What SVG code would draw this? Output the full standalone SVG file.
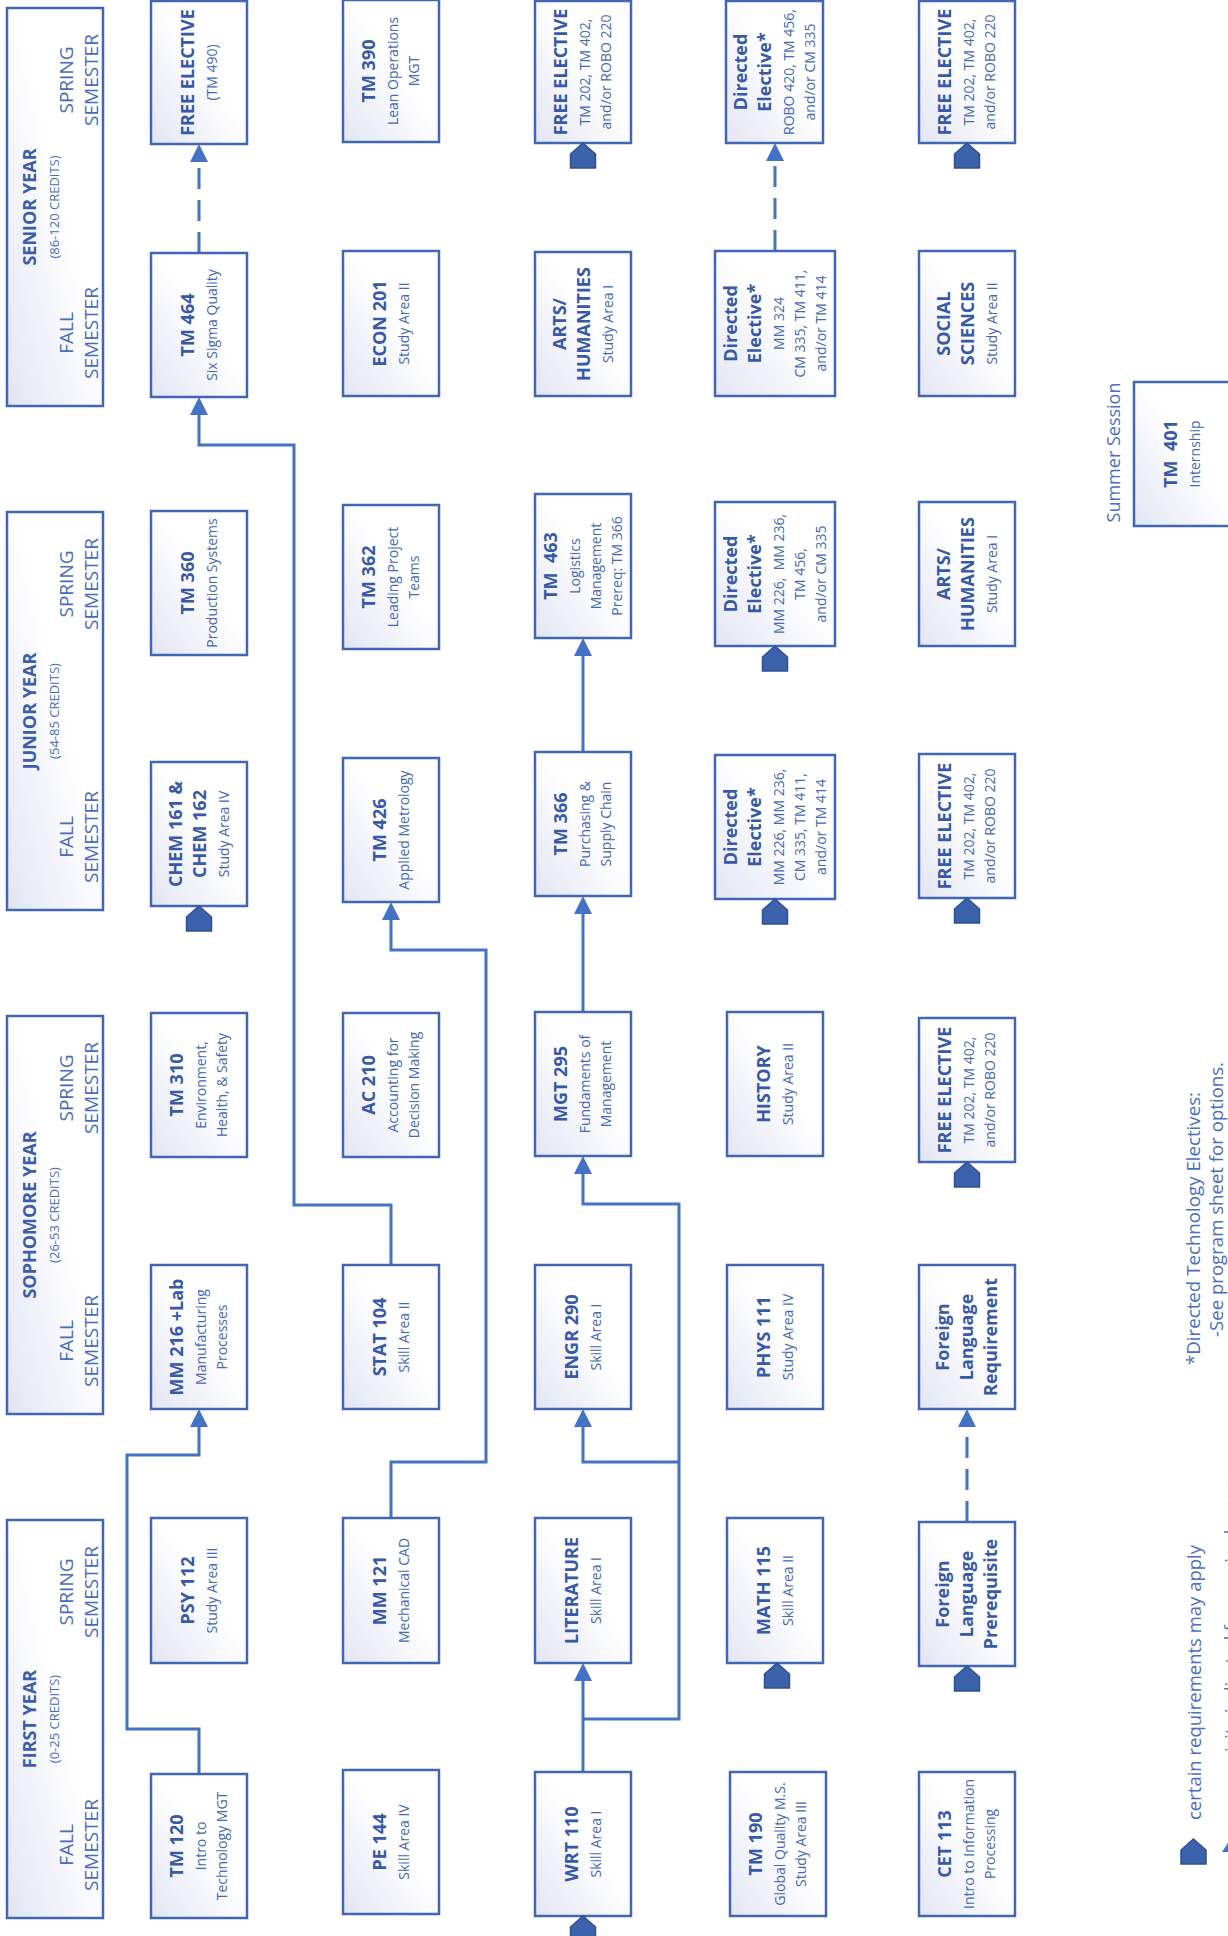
<svg xmlns="http://www.w3.org/2000/svg" xmlns:xlink="http://www.w3.org/1999/xlink" width="1228" height="1936" viewBox="0 0 1228 1936">
<style>
.box{fill:url(#g);stroke:#4266B2;stroke-width:2.5}
.t{font-family:"Open Sans","Noto Sans",sans-serif;font-weight:700;font-size:18px;fill:#3759A6;text-anchor:middle}
.s{font-family:"Open Sans","Noto Sans",sans-serif;font-size:14px;fill:#4568B6;text-anchor:middle}
.ht{font-family:"Open Sans","Noto Sans",sans-serif;font-weight:700;font-size:18px;fill:#3B5EAB;text-anchor:middle}
.hc{font-family:"Open Sans","Noto Sans",sans-serif;font-size:13px;fill:#4A6CBB;text-anchor:middle}
.hs{font-family:"Open Sans","Noto Sans",sans-serif;font-size:19px;fill:#4A6CBB;text-anchor:middle}
.n{font-family:"Open Sans","Noto Sans",sans-serif;font-size:18px;fill:#4A6FC0}
.c{fill:none;stroke:#4472C4;stroke-width:3;marker-end:url(#ah)}
.d{stroke-dasharray:21 11}
.pent{fill:#3B62AA;stroke:#2F5092;stroke-width:1.5}
</style>
<defs>
<linearGradient id="g" x1="0" y1="1" x2="1" y2="0">
<stop offset="0" stop-color="#E2E5F3"/>
<stop offset="0.55" stop-color="#FFFFFF"/>
<stop offset="1" stop-color="#FFFFFF"/>
</linearGradient>
<marker id="ah" viewBox="0 0 18 18" refX="3" refY="9" markerWidth="18" markerHeight="18" markerUnits="userSpaceOnUse" orient="auto">
<path d="M0,0 L18,9 L0,18 Z" fill="#4472C4"/>
</marker>
<path id="pent" class="pent" d="M0,0 L12.5,11 L12.5,25 L-12.5,25 L-12.5,11 Z"/>
</defs>
<rect x="0" y="0" width="1228" height="1936" fill="#FFFFFF"/>

<g id="connectors">
<path class="c" d="M199,1774 V1729 H127 V1455 H199 V1424"/>
<path class="c" d="M391,1518 V1462 H486 V950 H391 V917"/>
<path class="c" d="M391,1265 V1205 H294 V445 H199 V412"/>
<path class="c" d="M583,1772 V1678"/>
<path class="c" d="M583,1719 H679 V1204 H583 V1171"/>
<path class="c" d="M679,1462 H583 V1424"/>
<path class="c" d="M583,1012 V911"/>
<path class="c" d="M583,752 V653"/>
<path class="c d" d="M199,253 V159"/>
<path class="c d" d="M775,251 V158"/>
<path class="c d" d="M967,1522 V1424"/>
</g>

<g id="senior-year"><rect class="box" x="7" y="8" width="96" height="398"/>
<text class="ht" transform="translate(36,207) rotate(-90)">SENIOR YEAR</text>
<text class="hc" transform="translate(59,207) rotate(-90)">(86-120 CREDITS)</text>
<text class="hs" transform="translate(73,80) rotate(-90)">SPRING</text>
<text class="hs" transform="translate(98,80) rotate(-90)">SEMESTER</text>
<text class="hs" transform="translate(73,333) rotate(-90)">FALL</text>
<text class="hs" transform="translate(98,333) rotate(-90)">SEMESTER</text></g>
<g id="junior-year"><rect class="box" x="7" y="512" width="96" height="398"/>
<text class="ht" transform="translate(36,711) rotate(-90)">JUNIOR YEAR</text>
<text class="hc" transform="translate(59,711) rotate(-90)">(54-85 CREDITS)</text>
<text class="hs" transform="translate(73,584) rotate(-90)">SPRING</text>
<text class="hs" transform="translate(98,584) rotate(-90)">SEMESTER</text>
<text class="hs" transform="translate(73,837) rotate(-90)">FALL</text>
<text class="hs" transform="translate(98,837) rotate(-90)">SEMESTER</text></g>
<g id="sophomore-year"><rect class="box" x="7" y="1016" width="96" height="398"/>
<text class="ht" transform="translate(36,1215) rotate(-90)">SOPHOMORE YEAR</text>
<text class="hc" transform="translate(59,1215) rotate(-90)">(26-53 CREDITS)</text>
<text class="hs" transform="translate(73,1088) rotate(-90)">SPRING</text>
<text class="hs" transform="translate(98,1088) rotate(-90)">SEMESTER</text>
<text class="hs" transform="translate(73,1341) rotate(-90)">FALL</text>
<text class="hs" transform="translate(98,1341) rotate(-90)">SEMESTER</text></g>
<g id="first-year"><rect class="box" x="7" y="1520" width="96" height="398"/>
<text class="ht" transform="translate(36,1719) rotate(-90)">FIRST YEAR</text>
<text class="hc" transform="translate(59,1719) rotate(-90)">(0-25 CREDITS)</text>
<text class="hs" transform="translate(73,1592) rotate(-90)">SPRING</text>
<text class="hs" transform="translate(98,1592) rotate(-90)">SEMESTER</text>
<text class="hs" transform="translate(73,1845) rotate(-90)">FALL</text>
<text class="hs" transform="translate(98,1845) rotate(-90)">SEMESTER</text></g>

<g id="free-elective-tm490"><rect class="box" x="151" y="1" width="96" height="143"/>
<g transform="translate(199,72.5) rotate(-90)"><text class="t" y="-5.5">FREE ELECTIVE</text><text class="s" y="17.5">(TM 490)</text></g></g>
<g id="tm390"><rect class="box" x="343" y="0" width="96" height="142"/>
<g transform="translate(391,71) rotate(-90)"><text class="t" y="-16">TM 390</text><text class="s" y="7">Lean Operations</text><text class="s" y="28">MGT</text></g></g>
<g id="free-elective-senior-3"><rect class="box" x="535" y="1" width="96" height="142"/>
<g transform="translate(583,72) rotate(-90)"><text class="t" y="-16">FREE ELECTIVE</text><text class="s" y="7">TM 202, TM 402,</text><text class="s" y="28">and/or ROBO 220</text></g>
<use xlink:href="#pent" x="583" y="143"/></g>
<g id="directed-senior-spring"><rect class="box" x="726" y="1" width="97" height="142"/>
<g transform="translate(774.5,72) rotate(-90)"><text class="t" y="-28">Directed</text><text class="t" y="-4">Elective*</text><text class="s" y="19">ROBO 420, TM 456,</text><text class="s" y="40">and/or CM 335</text></g></g>
<g id="free-elective-senior-5"><rect class="box" x="919" y="1" width="96" height="142"/>
<g transform="translate(967,72) rotate(-90)"><text class="t" y="-16">FREE ELECTIVE</text><text class="s" y="7">TM 202, TM 402,</text><text class="s" y="28">and/or ROBO 220</text></g>
<use xlink:href="#pent" x="967" y="143"/></g>

<g id="tm464"><rect class="box" x="151" y="253" width="96" height="144"/>
<g transform="translate(199,325) rotate(-90)"><text class="t" y="-5.5">TM 464</text><text class="s" y="17.5">Six Sigma Quality</text></g></g>
<g id="econ201"><rect class="box" x="343" y="251" width="96" height="145"/>
<g transform="translate(391,323.5) rotate(-90)"><text class="t" y="-5.5">ECON 201</text><text class="s" y="17.5">Study Area II</text></g></g>
<g id="arts-senior"><rect class="box" x="535" y="252" width="96" height="144"/>
<g transform="translate(583,324) rotate(-90)"><text class="t" y="-17.5">ARTS/</text><text class="t" y="6.5">HUMANITIES</text><text class="s" y="29.5">Study Area I</text></g></g>
<g id="directed-senior-fall"><rect class="box" x="715" y="251" width="120" height="145"/>
<g transform="translate(775,323.5) rotate(-90)"><text class="t" y="-38.5">Directed</text><text class="t" y="-14.5">Elective*</text><text class="s" y="8.5">MM 324</text><text class="s" y="29.5">CM 335, TM 411,</text><text class="s" y="50.5">and/or TM 414</text></g></g>
<g id="social-sciences"><rect class="box" x="919" y="251" width="96" height="145"/>
<g transform="translate(967,323.5) rotate(-90)"><text class="t" y="-17.5">SOCIAL</text><text class="t" y="6.5">SCIENCES</text><text class="s" y="29.5">Study Area II</text></g></g>

<g id="tm360"><rect class="box" x="151" y="511" width="96" height="144"/>
<g transform="translate(199,583) rotate(-90)"><text class="t" y="-5.5">TM 360</text><text class="s" y="17.5">Production Systems</text></g></g>
<g id="tm362"><rect class="box" x="343" y="505" width="96" height="144"/>
<g transform="translate(391,577) rotate(-90)"><text class="t" y="-16">TM 362</text><text class="s" y="7">Leading Project</text><text class="s" y="28">Teams</text></g></g>
<g id="tm463"><rect class="box" x="535" y="494" width="96" height="144"/>
<g transform="translate(583,566) rotate(-90)"><text class="t" y="-26.5" xml:space="preserve">TM  463</text><text class="s" y="-3.5">Logistics</text><text class="s" y="17.5">Management</text><text class="s" y="38.5">Prereq: TM 366</text></g></g>
<g id="directed-junior-spring"><rect class="box" x="715" y="502" width="120" height="144"/>
<g transform="translate(775,574) rotate(-90)"><text class="t" y="-38.5">Directed</text><text class="t" y="-14.5">Elective*</text><text class="s" y="8.5" xml:space="preserve">MM 226,  MM 236,</text><text class="s" y="29.5">TM 456,</text><text class="s" y="50.5">and/or CM 335</text></g>
<use xlink:href="#pent" x="775" y="646"/></g>
<g id="arts-junior"><rect class="box" x="919" y="502" width="96" height="144"/>
<g transform="translate(967,574) rotate(-90)"><text class="t" y="-17.5">ARTS/</text><text class="t" y="6.5">HUMANITIES</text><text class="s" y="29.5">Study Area I</text></g></g>

<g id="chem161"><rect class="box" x="151" y="762" width="96" height="144"/>
<g transform="translate(199,834) rotate(-90)"><text class="t" y="-17.5">CHEM 161 &amp;</text><text class="t" y="6.5">CHEM 162</text><text class="s" y="29.5">Study Area IV</text></g>
<use xlink:href="#pent" x="199" y="906"/></g>
<g id="tm426"><rect class="box" x="343" y="758" width="96" height="144"/>
<g transform="translate(391,830) rotate(-90)"><text class="t" y="-5.5">TM 426</text><text class="s" y="17.5">Applied Metrology</text></g></g>
<g id="tm366"><rect class="box" x="535" y="752" width="96" height="144"/>
<g transform="translate(583,824) rotate(-90)"><text class="t" y="-16">TM 366</text><text class="s" y="7">Purchasing &amp;</text><text class="s" y="28">Supply Chain</text></g></g>
<g id="directed-junior-fall"><rect class="box" x="715" y="755" width="120" height="144"/>
<g transform="translate(775,827) rotate(-90)"><text class="t" y="-38.5">Directed</text><text class="t" y="-14.5">Elective*</text><text class="s" y="8.5">MM 226, MM 236,</text><text class="s" y="29.5">CM 335, TM 411,</text><text class="s" y="50.5">and/or TM 414</text></g>
<use xlink:href="#pent" x="775" y="899"/></g>
<g id="free-elective-junior"><rect class="box" x="919" y="754" width="96" height="144"/>
<g transform="translate(967,826) rotate(-90)"><text class="t" y="-16">FREE ELECTIVE</text><text class="s" y="7">TM 202, TM 402,</text><text class="s" y="28">and/or ROBO 220</text></g>
<use xlink:href="#pent" x="967" y="898"/></g>

<g id="tm310"><rect class="box" x="151" y="1013" width="96" height="144"/>
<g transform="translate(199,1085) rotate(-90)"><text class="t" y="-16">TM 310</text><text class="s" y="7">Environment,</text><text class="s" y="28">Health, &amp; Safety</text></g></g>
<g id="ac210"><rect class="box" x="343" y="1013" width="96" height="144"/>
<g transform="translate(391,1085) rotate(-90)"><text class="t" y="-16">AC 210</text><text class="s" y="7">Accounting for</text><text class="s" y="28">Decision Making</text></g></g>
<g id="mgt295"><rect class="box" x="535" y="1012" width="96" height="144"/>
<g transform="translate(583,1084) rotate(-90)"><text class="t" y="-16">MGT 295</text><text class="s" y="7">Fundaments of</text><text class="s" y="28">Management</text></g></g>
<g id="history"><rect class="box" x="727" y="1012" width="96" height="144"/>
<g transform="translate(775,1084) rotate(-90)"><text class="t" y="-5.5">HISTORY</text><text class="s" y="17.5">Study Area II</text></g></g>
<g id="free-elective-soph"><rect class="box" x="919" y="1018" width="96" height="144"/>
<g transform="translate(967,1090) rotate(-90)"><text class="t" y="-16">FREE ELECTIVE</text><text class="s" y="7">TM 202, TM 402,</text><text class="s" y="28">and/or ROBO 220</text></g>
<use xlink:href="#pent" x="967" y="1162"/></g>

<g id="mm216"><rect class="box" x="151" y="1265" width="96" height="144"/>
<g transform="translate(199,1337) rotate(-90)"><text class="t" y="-16">MM 216 +Lab</text><text class="s" y="7">Manufacturing</text><text class="s" y="28">Processes</text></g></g>
<g id="stat104"><rect class="box" x="343" y="1265" width="96" height="144"/>
<g transform="translate(391,1337) rotate(-90)"><text class="t" y="-5.5">STAT 104</text><text class="s" y="17.5">Skill Area II</text></g></g>
<g id="engr290"><rect class="box" x="535" y="1265" width="96" height="144"/>
<g transform="translate(583,1337) rotate(-90)"><text class="t" y="-5.5">ENGR 290</text><text class="s" y="17.5">Skill Area I</text></g></g>
<g id="phys111"><rect class="box" x="727" y="1265" width="96" height="144"/>
<g transform="translate(775,1337) rotate(-90)"><text class="t" y="-5.5">PHYS 111</text><text class="s" y="17.5">Study Area IV</text></g></g>
<g id="foreign-language-requirement"><rect class="box" x="919" y="1265" width="96" height="144"/>
<g transform="translate(967,1337) rotate(-90)"><text class="t" y="-18">Foreign</text><text class="t" y="6">Language</text><text class="t" y="30">Requirement</text></g></g>

<g id="psy112"><rect class="box" x="151" y="1518" width="96" height="145"/>
<g transform="translate(199,1590.5) rotate(-90)"><text class="t" y="-5.5">PSY 112</text><text class="s" y="17.5">Study Area III</text></g></g>
<g id="mm121"><rect class="box" x="343" y="1518" width="96" height="145"/>
<g transform="translate(391,1590.5) rotate(-90)"><text class="t" y="-5.5">MM 121</text><text class="s" y="17.5">Mechanical CAD</text></g></g>
<g id="literature"><rect class="box" x="535" y="1518" width="96" height="145"/>
<g transform="translate(583,1590.5) rotate(-90)"><text class="t" y="-5.5">LITERATURE</text><text class="s" y="17.5">Skill Area I</text></g></g>
<g id="math115"><rect class="box" x="727" y="1518" width="96" height="145"/>
<g transform="translate(775,1590.5) rotate(-90)"><text class="t" y="-5.5">MATH 115</text><text class="s" y="17.5">Skill Area II</text></g>
<use xlink:href="#pent" x="777" y="1663"/></g>
<g id="foreign-language-prerequisite"><rect class="box" x="919" y="1522" width="96" height="144"/>
<g transform="translate(967,1594) rotate(-90)"><text class="t" y="-18">Foreign</text><text class="t" y="6">Language</text><text class="t" y="30">Prerequisite</text></g>
<use xlink:href="#pent" x="967" y="1666"/></g>

<g id="tm120"><rect class="box" x="151" y="1774" width="96" height="144"/>
<g transform="translate(199,1846) rotate(-90)"><text class="t" y="-16">TM 120</text><text class="s" y="7">Intro to</text><text class="s" y="28">Technology MGT</text></g></g>
<g id="pe144"><rect class="box" x="343" y="1770" width="96" height="144"/>
<g transform="translate(391,1842) rotate(-90)"><text class="t" y="-5.5">PE 144</text><text class="s" y="17.5">Skill Area IV</text></g></g>
<g id="wrt110"><rect class="box" x="535" y="1772" width="96" height="144"/>
<g transform="translate(583,1844) rotate(-90)"><text class="t" y="-5.5">WRT 110</text><text class="s" y="17.5">Skill Area I</text></g>
<use xlink:href="#pent" x="583" y="1916"/></g>
<g id="tm190"><rect class="box" x="730" y="1772" width="96" height="144"/>
<g transform="translate(778,1844) rotate(-90)"><text class="t" y="-16">TM 190</text><text class="s" y="7">Global Quality M.S.</text><text class="s" y="28">Study Area III</text></g></g>
<g id="cet113"><rect class="box" x="919" y="1772" width="96" height="144"/>
<g transform="translate(967,1844) rotate(-90)"><text class="t" y="-16">CET 113</text><text class="s" y="7">Intro to Information</text><text class="s" y="28">Processing</text></g></g>

<g id="summer-session">
<text class="n" text-anchor="middle" transform="translate(1120,452.5) rotate(-90)">Summer Session</text>
<rect class="box" x="1134" y="382" width="96" height="144"/>
<g transform="translate(1182,454) rotate(-90)"><text class="t" y="-5.5" xml:space="preserve">TM  401</text><text class="s" y="17.5">Internship</text></g></g>

<g id="notes">
<text class="n" transform="translate(1200,1365) rotate(-90)" textLength="273" lengthAdjust="spacingAndGlyphs">*Directed Technology Electives:</text>
<text class="n" transform="translate(1223,1337) rotate(-90)" textLength="275" lengthAdjust="spacingAndGlyphs">-See program sheet for options.</text>
</g>
<g id="legend">
<use xlink:href="#pent" x="1193.5" y="1839"/>
<text class="n" transform="translate(1201,1820) rotate(-90)" textLength="275" lengthAdjust="spacingAndGlyphs">certain requirements may apply</text>
<path d="M1222,1852 L1240,1852 L1231,1838 Z" fill="#4472C4"/>
<text class="n" transform="translate(1238,1820) rotate(-90)">prerequisite indicated for required course</text>
</g>
</svg>
